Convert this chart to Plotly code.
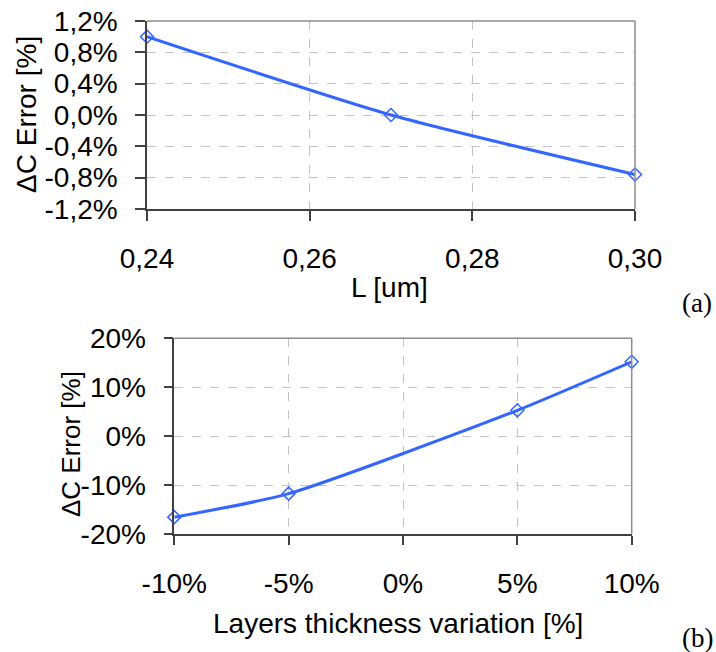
import plotly.graph_objects as go

# ---- data: chart (a)
L_um = [0.24, 0.27, 0.30]
dC_err_a = [1.0, 0.0, -0.76]
a_xticks = [0.24, 0.26, 0.28, 0.30]
a_xlabels = ["0,24", "0,26", "0,28", "0,30"]
a_yticks = [-1.2, -0.8, -0.4, 0.0, 0.4, 0.8, 1.2]
a_ylabels = ["-1,2%", "-0,8%", "-0,4%", "0,0%", "0,4%", "0,8%", "1,2%"]

# ---- data: chart (b)
thick_var = [-10, -5, 5, 10]
dC_err_b = [-16.5, -11.7, 5.3, 15.2]
b_xticks = [-10, -5, 0, 5, 10]
b_xlabels = ["-10%", "-5%", "0%", "5%", "10%"]
b_yticks = [-20, -10, 0, 10, 20]
b_ylabels = ["-20%", "-10%", "0%", "10%", "20%"]

W, H = 716, 652
BLUE = "#3366FF"
FONT = "Liberation Sans, Arial, sans-serif"
SERIF = "Liberation Serif, Times New Roman, serif"

def px_x(p):
    return p / W

def px_y(p):
    return 1 - p / H

fig = go.Figure()
line_style = dict(color=BLUE, width=3, shape="spline", smoothing=0.6)
marker_style = dict(symbol="diamond-open", size=10, color=BLUE, line=dict(color=BLUE, width=1.5))

fig.add_trace(go.Scatter(x=L_um, y=dC_err_a, mode="lines+markers", line=line_style,
                         marker=marker_style, xaxis="x", yaxis="y", showlegend=False,
                         cliponaxis=False))
fig.add_trace(go.Scatter(x=thick_var, y=dC_err_b, mode="lines+markers", line=line_style,
                         marker=marker_style, xaxis="x2", yaxis="y2", showlegend=False,
                         cliponaxis=False))

grid = dict(showgrid=True, gridcolor="#c4c4c4", gridwidth=1, griddash="dash",
            showline=True, linecolor="#404040", linewidth=1.5,
            ticks="outside", tickcolor="#404040", tickwidth=1.5,
            zeroline=False, automargin=False,
            tickfont=dict(family=FONT, size=28, color="#000"))

fig.update_layout(
    width=W, height=H,
    margin=dict(l=0, r=0, t=0, b=0),
    paper_bgcolor="white", plot_bgcolor="white",
    xaxis=dict(domain=[px_x(147), px_x(635)], range=[0.24, 0.30],
               tickvals=a_xticks, ticktext=a_xlabels, ticklen=10,
               ticklabelstandoff=14, anchor="y", **grid),
    yaxis=dict(domain=[px_y(209), px_y(21)], range=[-1.2, 1.2],
               tickvals=a_yticks, ticktext=a_ylabels, ticklen=10,
               ticklabelstandoff=12, anchor="x", **grid),
    xaxis2=dict(domain=[px_x(174.3), px_x(631.7)], range=[-10, 10],
                tickvals=b_xticks, ticktext=b_xlabels, ticklen=9,
                ticklabelstandoff=14, anchor="y2", **grid),
    yaxis2=dict(domain=[px_y(534.3), px_y(338.3)], range=[-20, 20],
                tickvals=b_yticks, ticktext=b_ylabels, ticklen=9,
                ticklabelstandoff=12, anchor="x2", **grid),
)

# top/right borders in grey
for xr, yr in (("x", "y"), ("x2", "y2")):
    fig.add_shape(type="line", xref=f"{xr} domain", yref=f"{yr} domain",
                  x0=0, x1=1, y0=1, y1=1, line=dict(color="#8c8c8c", width=1.5))
    fig.add_shape(type="line", xref=f"{xr} domain", yref=f"{yr} domain",
                  x0=1, x1=1, y0=0, y1=1, line=dict(color="#8c8c8c", width=1.5))

def ann(text, x, y, size=28, family=FONT, angle=0, xanchor="center"):
    fig.add_annotation(text=text, x=px_x(x), y=px_y(y), xref="paper", yref="paper",
                       showarrow=False, textangle=angle, xanchor=xanchor, yanchor="middle",
                       font=dict(family=family, size=size, color="#000"))

ann("ΔC Error [%]", 27, 115, angle=-90)
ann("L [um]", 389, 287)
ann("(a)", 697, 303, size=27, family=SERIF)
ann("ΔC Error [%]", 71, 444, size=26, angle=-90)
ann("Layers thickness variation [%]", 398, 623)
ann("(b)", 715, 638, size=27, family=SERIF, xanchor="right")

fig.write_html("out.html")
